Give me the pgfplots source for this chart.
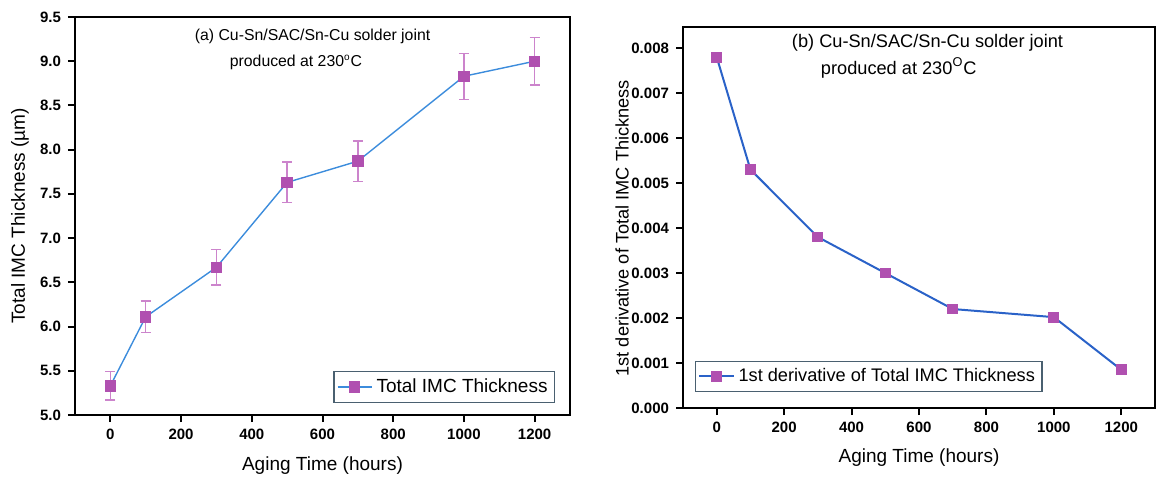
\documentclass[border=0pt]{standalone}
\usepackage{fontspec}
\setmainfont{Liberation Sans}
\usepackage{pgfplots}
\pgfplotsset{compat=1.18}
\definecolor{mk}{HTML}{B050B0}
\definecolor{errc}{HTML}{CC84CC}
\definecolor{lineA}{HTML}{3C8CDC}
\definecolor{lineB}{HTML}{2A62C8}
\definecolor{legframe}{HTML}{4A6070}
\pgfplotsset{
  imcplot/.style={
    scale only axis,
    anchor=south west,
    clip=false,
    xmin=-100, xmax=1300,
    xtick={0,200,...,1200},
    xticklabel style={/pgf/number format/1000 sep={}},
    axis line style={line width=1pt},
    tick style={line width=1pt, black},
    tick align=outside,
    major tick length=3.5pt,
    xtick pos=bottom, ytick pos=left,
    tick label style={font=\bfseries\fontsize{7.5}{8}\selectfont},
    /pgf/number format/assume math mode=true,
    scaled y ticks=false,
    legend cell align=left,
  },
}
\begin{document}
\begin{tikzpicture}
\useasboundingbox (0,0) rectangle (578pt,238.5pt);

% (a) total IMC thickness
\begin{axis}[
  imcplot,
  at={(37.5pt,31pt)},
  width=247.5pt, height=199pt,
  ymin=5, ymax=9.5,
  ytick={5,5.5,...,9.5},
  yticklabel style={/pgf/number format/.cd, fixed, fixed zerofill, precision=1},
  legend style={at={(0.97,0.03)}, anchor=south east, draw=legframe, line width=0.6pt,
    font=\fontsize{9.5}{10}\selectfont, inner sep=1.5pt},
]
\addplot[lineA, line width=0.7pt, mark=square*, mark size=2.5pt,
  mark options={fill=mk, draw=mk},
  error bars/.cd, y dir=both, y explicit,
  error bar style={errc, line width=0.7pt},
  error mark options={errc, rotate=90, mark size=2.5pt, line width=0.7pt}]
  coordinates {
  (0,5.33) +- (0,0.16)
  (100,6.11) +- (0,0.18)
  (300,6.67) +- (0,0.20)
  (500,7.63) +- (0,0.23)
  (700,7.87) +- (0,0.23)
  (1000,8.83) +- (0,0.26)
  (1200,9.00) +- (0,0.27)
  };
\addlegendentry{Total IMC Thickness}
\node[anchor=west, font=\fontsize{7.9}{9}\selectfont, inner sep=0pt] at (axis cs:238,9.285) {(a) Cu-Sn/SAC/Sn-Cu solder joint};
\node[anchor=west, font=\fontsize{7.9}{9}\selectfont, inner sep=0pt] at (axis cs:337,8.99) {produced at 230\textsuperscript{\tiny o}C};
\node[rotate=90, font=\fontsize{9.5}{10}\selectfont] at (axis description cs:-0.111,0.5) {Total IMC Thickness (µm)};
\node[font=\fontsize{9.5}{10}\selectfont] at (axis description cs:0.5,-0.128) {Aging Time (hours)};
\end{axis}

% (b) first derivative
\begin{axis}[
  imcplot,
  at={(341.5pt,34.5pt)},
  width=236pt, height=190.5pt,
  ymin=0, ymax=0.00847,
  ytick={0,0.001,...,0.008},
  yticklabel style={/pgf/number format/.cd, fixed, fixed zerofill, precision=3},
  legend style={at={(0.025,0.042)}, anchor=south west, draw=legframe, line width=0.6pt,
    font=\fontsize{9.1}{10}\selectfont, inner sep=1.5pt},
]
\addplot[lineB, line width=1pt, mark=square*, mark size=2.2pt,
  mark options={fill=mk, draw=mk}]
  coordinates {
  (0,0.0078) (100,0.0053) (300,0.0038) (500,0.0030)
  (700,0.0022) (1000,0.00202) (1200,0.00085)
  };
\addlegendentry{1st derivative of Total IMC Thickness}
\node[anchor=west, font=\fontsize{9.1}{10}\selectfont, inner sep=0pt] at (axis cs:222,0.00811) {(b) Cu-Sn/SAC/Sn-Cu solder joint};
\node[anchor=west, font=\fontsize{9.1}{10}\selectfont, inner sep=0pt] at (axis cs:308,0.00756) {produced at 230\textsuperscript{O}C};
\node[rotate=90, font=\fontsize{9.1}{10}\selectfont] at (axis description cs:-0.129,0.472) {1st derivative of Total IMC Thickness};
\node[font=\fontsize{9.5}{10}\selectfont] at (axis description cs:0.5,-0.129) {Aging Time (hours)};
\end{axis}
\end{tikzpicture}
\end{document}
